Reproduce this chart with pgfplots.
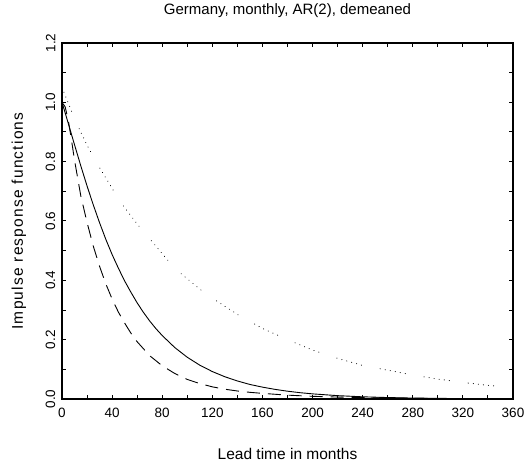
\documentclass[border=0pt]{standalone}
\usepackage{fontspec}
\setmainfont{Liberation Sans}
\usepackage{pgfplots}
\pgfplotsset{compat=1.18}

\begin{document}
\begin{tikzpicture}
  \begin{axis}[
      at={(0,0)}, anchor=south west,
      scale only axis,
      width=451bp, height=356bp,
      xmin=0, xmax=360, ymin=0, ymax=1.2,
      xtick={0,40,...,360},
      minor xtick={20,60,...,340},
      ytick={0,0.2,0.4,0.6,0.8,1.0,1.2},
      yticklabels={0.0,0.2,0.4,0.6,0.8,1.0,1.2},
      minor ytick={0.1,0.3,0.5,0.7,0.9,1.1},
      tick align=inside,
      major tick length=4bp, minor tick length=4bp,
      every tick/.style={black, line width=1bp},
      axis line style={line width=2.6bp},
      /pgf/number format/assume math mode=true,
      xticklabel style={font=\fontsize{13.5bp}{15bp}\selectfont, anchor=north, inner sep=0pt, inner ysep=9bp},
      yticklabel style={font=\fontsize{13.5bp}{15bp}\selectfont, rotate=90, anchor=south, inner sep=0pt, inner ysep=6.5bp},
      title={Germany, monthly, AR(2), demeaned},
      title style={at={(axis description cs:0.5,1.0646)}, anchor=base, inner sep=0pt, font=\fontsize{15bp}{18bp}\selectfont},
      xlabel={Lead time in months},
      xlabel style={at={(axis description cs:0.5,-0.1713)}, anchor=base, inner sep=0pt, font=\fontsize{15.5bp}{18bp}\selectfont},
      ylabel={Impulse response functions},
      ylabel style={at={(axis description cs:-0.0865,0.5)}, rotate=0, anchor=base, inner sep=0pt, font=\fontsize{15.5bp}{18bp}\selectfont\addfontfeature{LetterSpace=8}},
    ]
    % solid
    \addplot[black, line width=0.9bp] coordinates {
      (0,1.000)(2.5,0.965)(5,0.929)(7.5,0.893)(10,0.857)(15,0.786)(20,0.718)
      (25,0.654)(30,0.594)(35,0.538)(40,0.487)(45,0.441)(50,0.398)(55,0.360)
      (60,0.324)(65,0.292)(70,0.263)(75,0.237)(80,0.214)(90,0.1735)
      (100,0.1407)(110,0.114)(120,0.0925)(130,0.075)(140,0.0608)(150,0.049)
      (160,0.040)(170,0.0325)(180,0.0263)(190,0.0213)(200,0.0173)(220,0.0113)
      (240,0.0074)(260,0.0049)(280,0.0032)(300,0.0021)(320,0.0014)
      (340,0.0009)(360,0.0006)
    };
    % dashed
    \addplot[black, line width=0.9bp, dash pattern=on 13bp off 8bp] coordinates {
      (0,1.000)(2.5,0.985)(5,0.940)(7.5,0.875)(10,0.805)(15,0.685)(20,0.595)
      (25,0.515)(30,0.447)(35,0.388)(40,0.337)(45,0.293)(50,0.256)(55,0.222)
      (60,0.193)(70,0.146)(80,0.112)(90,0.086)(100,0.066)(110,0.052)
      (120,0.041)(130,0.033)(140,0.027)(150,0.0225)(160,0.019)(180,0.013)
      (200,0.009)(220,0.0065)(240,0.0046)(260,0.0033)(280,0.0024)
      (300,0.0017)(320,0.0012)(340,0.0009)(360,0.0006)
    };
    % dotted
    \addplot[black, line width=1bp, line cap=round,
      dash pattern=on 0.1bp off 5bp on 0.1bp off 5bp on 0.1bp off 5bp on 0.1bp off 5bp on 0.1bp off 5bp on 0.1bp off 19bp] coordinates {
      (0,1.05)(10,0.945)(20,0.855)(30,0.78)(40,0.71)(50,0.645)(60,0.59)
      (70,0.54)(80,0.49)(90,0.44)(100,0.405)(110,0.37)(120,0.34)(140,0.285)
      (160,0.238)(180,0.20)(200,0.165)(220,0.137)(240,0.113)(260,0.097)
      (280,0.081)(300,0.067)(320,0.056)(340,0.046)(360,0.039)
    };
  \end{axis}
  \pgfresetboundingbox
  \path[use as bounding box] (-62bp,-67bp) rectangle (469bp,399bp);
\end{tikzpicture}
\end{document}
